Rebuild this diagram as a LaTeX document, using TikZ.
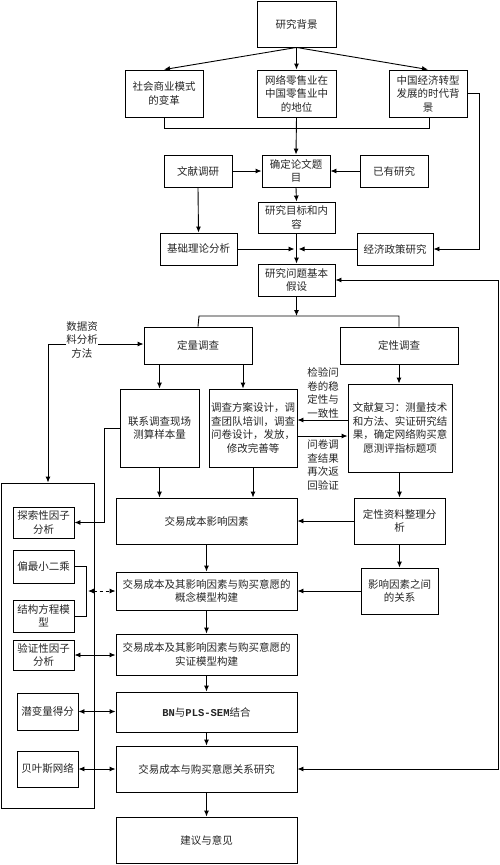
\documentclass[tikz,border=0pt]{standalone}
\usepackage{fontspec}
\setmainfont{Noto Sans CJK SC}
\newfontfamily\latinmono{Liberation Mono}
\usetikzlibrary{arrows.meta,calc}
\begin{document}
\begin{tikzpicture}[x=1pt,y=-1pt,
  every node/.style={font=\fontsize{10.5}{13.5}\selectfont, inner sep=0pt, align=center, text=black!85},
  box/.style={draw, line width=0.9pt, fill=white},
  lbl/.style={},
  arr/.style={line width=0.9pt, -{Latex[length=6pt,width=5pt]}},
  dbl/.style={line width=0.9pt, {Latex[length=6pt,width=5pt]}-{Latex[length=6pt,width=5pt]}},
  ln/.style={line width=0.9pt}]
\useasboundingbox (0,0) rectangle (500,865);
% top
\node[box, minimum width=79, minimum height=46] (bg) at (296.5,24) {研究背景};
\node[box, minimum width=78, minimum height=47] (shehui) at (164,93.5) {社会商业模式\\的变革};
\node[box, minimum width=79, minimum height=47] (wangluo) at (296.5,93.5) {网络零售业在\\中国零售业中\\的地位};
\node[box, minimum width=78, minimum height=47] (zhongguo) at (428,93.5) {中国经济转型\\发展的时代背\\景};
\node[box, minimum width=68, minimum height=32] (wenxian) at (198,171) {文献调研};
\node[box, minimum width=68, minimum height=32] (queding) at (296,171) {确定论文题\\目};
\node[box, minimum width=68, minimum height=32] (yiyou) at (394,171) {已有研究};
\node[box, minimum width=77, minimum height=31] (mubiao) at (296.5,217.5) {研究目标和内\\容};
\node[box, minimum width=77, minimum height=32] (jichu) at (198.5,249) {基础理论分析};
\node[box, minimum width=76, minimum height=32] (jingji) at (395,249) {经济政策研究};
\node[box, minimum width=77, minimum height=32] (wenti) at (296.5,280) {研究问题基本\\假设};
\node[box, minimum width=108, minimum height=37] (dingliang) at (198,345.5) {定量调查};
\node[box, minimum width=118, minimum height=37] (dingxing) at (399,345.5) {定性调查};
\node[box, minimum width=79, minimum height=78] (lianxi) at (159.5,428) {联系调查现场\\测算样本量};
\node[box, minimum width=88, minimum height=78] (fangan) at (253,428) {调查方案设计，调\\查团队培训，调查\\问卷设计，发放，\\修改完善等};
\node[box, minimum width=104, minimum height=88] (fuxi) at (400,428) {文献复习：测量技术\\和方法、实证研究结\\果，确定网络购买意\\愿测评指标题项};
\node[box, minimum width=181, minimum height=46] (yinsu) at (206.5,521) {交易成本影响因素};
\node[box, minimum width=91, minimum height=46] (ziliao) at (399.5,521) {定性资料整理分\\析};
\node[box, minimum width=181, minimum height=38] (gainian) at (206.5,591) {交易成本及其影响因素与购买意愿的\\概念模型构建};
\node[box, minimum width=77, minimum height=46] (guanxi) at (399.5,591) {影响因素之间\\的关系};
\node[box, minimum width=181, minimum height=41] (shizheng) at (206.5,654.5) {交易成本及其影响因素与购买意愿的\\实证模型构建};
\node[box, minimum width=181, minimum height=40] (bn) at (206.5,712) {{\latinmono\bfseries BN}与{\latinmono\bfseries PLS-SEM}结合};
\node[box, minimum width=181, minimum height=46] (yanjiu) at (206.5,769) {交易成本与购买意愿关系研究};
\node[box, minimum width=181, minimum height=46] (jianyi) at (206.5,840) {建议与意见};
% left tool panel
\node[box, minimum width=93, minimum height=325] (panel) at (47.5,645.5) {};
\node[box, minimum width=61, minimum height=31] (tansuo) at (43.5,522.5) {探索性因子\\分析};
\node[box, minimum width=61, minimum height=33] (pianzui) at (43.5,566.5) {偏最小二乘};
\node[box, minimum width=61, minimum height=32] (jiegou) at (43.5,616) {结构方程模\\型};
\node[box, minimum width=61, minimum height=30] (yanzheng) at (43.5,655) {验证性因子\\分析};
\node[box, minimum width=61, minimum height=37] (qianbian) at (47.5,711.5) {潜变量得分};
\node[box, minimum width=61, minimum height=36] (beiyes) at (47.5,769) {贝叶斯网络};
% labels
\node[lbl] (shuju) at (82,340) {数据资\\料分析\\方法};
\node[lbl] (jianyan) at (323,393) {检验问\\卷的稳\\定性与\\一致性};
\node[lbl] (fanhui) at (323,465) {问卷调\\查结果\\再次返\\回验证};
% connectors top
\draw[arr] (bg.south) -- (shehui.north);
\draw[arr] (bg.south) -- (wangluo.north);
\draw[arr] (bg.south) -- (zhongguo.north);
\draw[ln] (shehui.south) -- (164,128) -- (429,128) -- (zhongguo.south -| 429,0);
\draw[arr] (wangluo.south) -- (queding.north);
\draw[arr] (zhongguo.east) -- (zhongguo.east -| 479,0) |- (jingji.east);
\draw[arr] (wenxian.east) -- (queding.west);
\draw[arr] (yiyou.west) -- (queding.east);
\draw[arr] (queding.south) -- (mubiao.north);
\draw[arr] (wenxian.south) -- (jichu.north);
\draw[arr] (mubiao.south) -- (wenti.north);
\draw[arr] (jichu.east) -- (294.5,249);
\draw[arr] (jingji.west) -- (298.5,249);
\coordinate (split) at (296.5,316);
\draw[arr] (wenti.south) -- (split);
\draw[ln] (dingliang.north) -- (199,316) -- (399,316) -- (dingxing.north);
\draw[dbl] (wenti.east) -- (wenti.east -| 498,0) -- (yanjiu.east -| 498,0) -- (yanjiu.east);
% survey level
\draw[arr] (shuju.east |- 0,344) -- (dingliang.west |- 0,344);
\draw[arr] (shuju.west |- 0,344) -- (48,344) -- (panel.north -| 48,0);
\draw[arr] (dingliang.south -| 159.5,0) -- (lianxi.north);
\draw[arr] (dingliang.south -| 243,0) -- (fangan.north -| 243,0);
\draw[arr] (dingxing.south) -- (fuxi.north -| 399,0);
\draw[arr] (fuxi.west |- 0,420) -- (fangan.east |- 0,420);
\draw[arr] (fangan.east |- 0,436) -- (fuxi.west |- 0,436);
\draw[arr] (lianxi.west) -- (104,428) |- (tansuo.east);
\draw[arr] (lianxi.south) -- (yinsu.north -| lianxi.south);
\draw[arr] (fangan.south) -- (yinsu.north -| fangan.south);
\draw[arr] (fuxi.south -| 399.5,0) -- (ziliao.north);
\draw[arr] (ziliao.west) -- (yinsu.east);
\draw[arr] (yinsu.south) -- (gainian.north);
\draw[arr] (ziliao.south) -- (guanxi.north);
\draw[arr] (guanxi.west) -- (gainian.west -| gainian.east);
\draw[arr] (gainian.south) -- (shizheng.north);
\draw[arr] (shizheng.south) -- (bn.north);
\draw[arr] (bn.south) -- (yanjiu.north);
\draw[arr] (yanjiu.south) -- (jianyi.north);
% tool links
\draw[ln] (pianzui.east) -- (86,566.5) -- (86,616) -- (jiegou.east);
\draw[dbl, dashed] (88,591) -- (gainian.west);
\draw[dbl] (yanzheng.east) -- (shizheng.west |- yanzheng.east);
\draw[dbl] (qianbian.east) -- (bn.west |- qianbian.east);
\draw[dbl] (beiyes.east) -- (yanjiu.west);
\end{tikzpicture}
\end{document}
